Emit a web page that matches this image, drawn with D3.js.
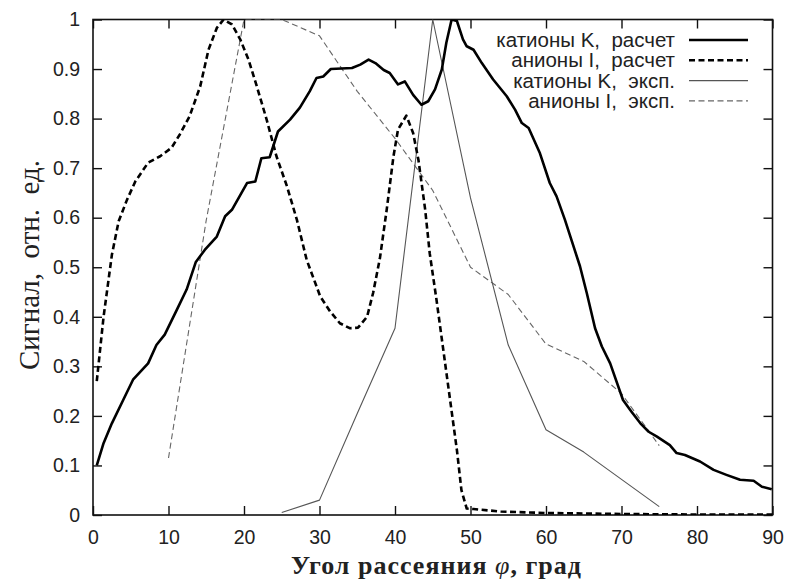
<!DOCTYPE html>
<html><head><meta charset="utf-8">
<script src="https://cdn.jsdelivr.net/npm/d3@7"></script>
<style>body{margin:0;background:#fff}svg{display:block}</style>
</head><body>
<script>
// Data
const kCalcX = [0.5,1.4,2.5,4.0,5.3,7.3,8.4,9.5,11.1,12.4,13.6,14.8,16.4,17.5,18.4,20.4,21.5,22.3,23.4,24.5,26.1,27.4,28.7,29.6,30.5,31.5,34.3,35.4,36.5,37.4,38.5,39.3,40.4,41.3,42.4,43.5,44.4,45.3,46.2,46.8,47.5,48.2,49.0,49.5,50.4,51.5,53.0,54.8,55.9,56.8,57.7,59.2,60.5,61.4,62.5,64.5,65.4,66.5,67.4,68.5,70.2,71.3,72.5,73.6,74.7,76.4,77.3,78.4,80.4,82.2,83.9,85.7,87.5,88.6,89.9];
const kCalcY = [0.10,0.145,0.185,0.232,0.273,0.306,0.343,0.364,0.414,0.455,0.51,0.535,0.562,0.603,0.616,0.67,0.673,0.72,0.722,0.774,0.798,0.822,0.855,0.882,0.885,0.90,0.902,0.909,0.919,0.912,0.898,0.892,0.869,0.875,0.848,0.828,0.835,0.859,0.899,0.953,1.0,0.997,0.96,0.946,0.939,0.912,0.879,0.845,0.818,0.791,0.781,0.73,0.67,0.643,0.596,0.502,0.448,0.377,0.34,0.306,0.232,0.209,0.185,0.168,0.158,0.141,0.125,0.121,0.108,0.091,0.081,0.071,0.069,0.057,0.052];
const iCalcX = [0.5,1.4,2.5,3.4,4.5,5.6,7.3,8.9,10.4,11.5,12.8,14.2,15.3,16.4,17.3,18.4,19.5,20.6,21.7,23.0,24.3,25.7,27.0,28.3,30.1,31.4,32.7,34.0,35.1,36.3,37.1,38.0,38.9,39.8,40.4,41.5,42.4,43.1,44.0,44.6,45.5,46.4,47.3,48.2,48.8,49.5,50.4,54,60,70,80,90];
const iCalcY = [0.27,0.40,0.525,0.593,0.636,0.673,0.711,0.724,0.741,0.768,0.805,0.865,0.939,0.983,1.0,0.99,0.96,0.919,0.865,0.798,0.724,0.663,0.596,0.515,0.441,0.411,0.387,0.377,0.378,0.40,0.448,0.518,0.616,0.724,0.778,0.806,0.771,0.717,0.616,0.528,0.434,0.333,0.232,0.131,0.05,0.013,0.012,0.007,0.004,0.002,0.001,0.001];
const kExpX = [25,30,35,40,45,50,55,60,65,70,75];
const kExpY = [0.005,0.03,0.205,0.377,1.0,0.64,0.343,0.172,0.127,0.072,0.017];
const iExpX = [10,15,20,25,30,35,40,45,50,55,60,65,70,75];
const iExpY = [0.115,0.595,1.0,1.0,0.967,0.855,0.76,0.655,0.5,0.445,0.345,0.31,0.245,0.14];
const xTicks = [0,10,20,30,40,50,60,70,80,90];
const yTicks = [0,0.1,0.2,0.3,0.4,0.5,0.6,0.7,0.8,0.9,1];
const seriesNames = ["катионы K,  расчет","анионы I,  расчет","катионы K,  эксп.","анионы I,  эксп."];
const xTitleA = "Угол рассеяния ", xTitleB = "φ", xTitleC = ", град";
const yTitle = "Сигнал,  отн.  ед.";

const W = 789, H = 580;
const L = 93, R = 772.5, T = 19.5, B = 515;
const svg = d3.select("body").append("svg").attr("width", W).attr("height", H);
const x = d3.scaleLinear().domain([0, 90]).range([L, R]);
const y = d3.scaleLinear().domain([0, 1]).range([B, T]);
const fontSans = "'Liberation Sans', Arial, Helvetica, sans-serif";
const fontSerif = "'Liberation Serif', 'DejaVu Serif', serif";

svg.append("defs").append("clipPath").attr("id","clip")
  .append("rect").attr("x", L).attr("y", T).attr("width", R - L).attr("height", B - T);

const tickLen = 9;
const axB = svg.append("g").attr("transform", `translate(0,${B})`)
  .call(d3.axisBottom(x).tickValues(xTicks).tickSize(-tickLen).tickPadding(15).tickFormat(d3.format("d")));
const axT = svg.append("g").attr("transform", `translate(0,${T})`)
  .call(d3.axisTop(x).tickValues(xTicks).tickSize(-tickLen).tickFormat(""));
const axL = svg.append("g").attr("transform", `translate(${L},0)`)
  .call(d3.axisLeft(y).tickValues(yTicks).tickSize(-tickLen).tickPadding(13).tickFormat(d => d === 0 || d === 1 ? d3.format("d")(d) : d3.format(".1f")(d)));
const axR = svg.append("g").attr("transform", `translate(${R},0)`)
  .call(d3.axisRight(y).tickValues(yTicks).tickSize(-tickLen).tickFormat(""));
[axB, axT, axL, axR].forEach(a => {
  a.select(".domain").remove();
  a.selectAll(".tick line").attr("stroke", "#111").attr("stroke-width", 1.4);
  a.selectAll("text").attr("font-family", fontSans).attr("font-size", 19.5).attr("fill", "#222");
});
svg.append("rect").attr("x", L).attr("y", T).attr("width", R - L).attr("height", B - T)
  .attr("fill", "none").attr("stroke", "#111").attr("stroke-width", 1.6);

const line = d3.line().x(d => x(d[0])).y(d => y(d[1]));
const zipd = (xs, ys) => xs.map((v, i) => [v, ys[i]]);
const styles = [
  {data: zipd(kCalcX, kCalcY), stroke: "#000", w: 2.6, dash: null},
  {data: zipd(iCalcX, iCalcY), stroke: "#000", w: 2.6, dash: "6,3.5"},
  {data: zipd(kExpX, kExpY), stroke: "#555", w: 1.1, dash: null},
  {data: zipd(iExpX, iExpY), stroke: "#666", w: 1.1, dash: "6,3.5"}
];
const plot = svg.append("g").attr("clip-path", "url(#clip)");
styles.slice().reverse().forEach(s => {
  plot.append("path").attr("d", line(s.data)).attr("fill", "none")
    .attr("stroke", s.stroke).attr("stroke-width", s.w)
    .attr("stroke-linejoin", "round")
    .attr("stroke-dasharray", s.dash);
});

// legend
const leg = svg.append("g");
seriesNames.forEach((n, i) => {
  const yy = 40 + i * 20.3;
  leg.append("text").attr("x", 675).attr("y", yy).attr("dy", "0.35em")
    .attr("text-anchor", "end").attr("font-family", fontSans).attr("font-size", 20.5)
    .attr("fill", "#222").style("white-space", "pre").attr("xml:space", "preserve").text(n);
  leg.append("line").attr("x1", 689).attr("x2", 748).attr("y1", yy).attr("y2", yy)
    .attr("stroke", styles[i].stroke).attr("stroke-width", styles[i].w)
    .attr("stroke-dasharray", styles[i].dash);
});

// axis titles
const xt = svg.append("text").attr("x", 436).attr("y", 565).attr("dy", "0.35em").attr("text-anchor", "middle")
  .attr("font-family", fontSerif).attr("font-size", 26).attr("font-weight", "bold").attr("fill", "#222")
  .attr("textLength", 290).attr("lengthAdjust", "spacing");
xt.append("tspan").text(xTitleA);
xt.append("tspan").attr("font-style", "italic").attr("font-weight", "normal").text(xTitleB);
xt.append("tspan").text(xTitleC);
svg.append("text").attr("transform", `translate(29,265) rotate(-90)`)
  .attr("text-anchor", "middle").attr("dy", "0.35em")
  .attr("font-family", fontSerif).attr("font-size", 29).attr("fill", "#222")
  .style("white-space", "pre")
  .text(yTitle);
</script>
</body></html>
